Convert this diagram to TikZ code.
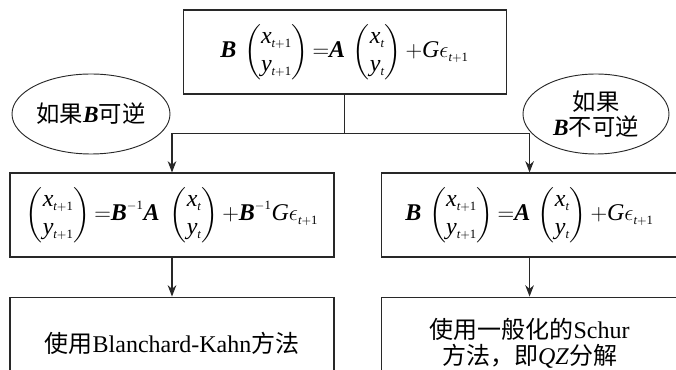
\documentclass[tikz,border=0pt]{standalone}
\usepackage{amsmath}
\usepackage{mathspec}
\setmainfont{Liberation Serif}
\setmathsfont(Digits,Latin){Liberation Serif}
\newfontfamily\cjk{Noto Sans CJK SC}
\usetikzlibrary{shapes.geometric,arrows.meta,positioning,calc}
\definecolor{LineGray}{RGB}{40,40,40}
\DeclareMathSizes{18}{18}{9.5}{7}
\newcommand{\matB}{\textbf{\textit{B}}}
\newcommand{\matA}{\textbf{\textit{A}}}

\begin{document}
\begin{tikzpicture}[
    node distance=29.25pt and 34.5pt,
    box/.style={draw=LineGray, line width=0.8pt, rectangle, minimum height=63pt, align=center, font=\fontsize{18}{21}\selectfont, inner sep=2pt},
    lowbox/.style={box, minimum height=70pt, font=\fontsize{18}{19.5}\selectfont},
    cond/.style={draw=LineGray, line width=0.7pt, ellipse, align=center, font=\fontsize{17.5}{19}\selectfont, inner sep=0pt},
    arr/.style={draw=LineGray, line width=0.8pt, -{Stealth[length=8.5pt,width=6.5pt]}},
  ]
    \useasboundingbox (0,0) rectangle (507pt,-277.5pt);
    \clip (0,0) rectangle (507pt,-277.5pt);

    \node[box, minimum width=242.25pt] (model) at (258.4pt,-39pt)
      {$\matB\,\begin{pmatrix}x_{t+1}\\ y_{t+1}\end{pmatrix}{=}\matA\,\begin{pmatrix}x_t\\ y_t\end{pmatrix}{+}G\epsilon_{t+1}$};
    \node[box, minimum width=243pt] (inv) at (129pt,-161.25pt)
      {$\begin{pmatrix}x_{t+1}\\ y_{t+1}\end{pmatrix}{=}\matB^{-1}\matA\;\begin{pmatrix}x_t\\ y_t\end{pmatrix}{+}\matB^{-1}G\epsilon_{t+1}$};
    \node[box, minimum width=222.75pt, right=of inv] (noninv)
      {$\matB\,\begin{pmatrix}x_{t+1}\\ y_{t+1}\end{pmatrix}{=}\matA\,\begin{pmatrix}x_t\\ y_t\end{pmatrix}{+}G\epsilon_{t+1}$};

    \node[lowbox, minimum width=243pt, below=of inv] (bk) {{\cjk 使用}Blanchard-Kahn{\cjk 方法}};
    \node[lowbox, minimum width=222.75pt, below=of noninv] (qz) {{\cjk 使用一般化的}Schur\\{\cjk 方法，即}\textit{QZ}{\cjk 分解}};

    % conditions
    \node[cond, minimum width=118.5pt, minimum height=60pt] (ifinv) at (68.25pt,-85.5pt) {{\cjk 如果}\matB{\cjk 可逆}};
    \node[cond, minimum width=109.5pt, minimum height=60pt] (ifnot) at (447pt,-85.5pt) {{\cjk 如果}\\\matB{\cjk 不可逆}};

    \draw[draw=LineGray, line width=0.8pt] (model.south) -- ++(0,-29.25pt) coordinate (split);
    \draw[arr] (split) -| (inv.north);
    \draw[arr] (split) -| (noninv.north);
    \draw[arr] (inv) -- (bk);
    \draw[arr] (noninv) -- (qz);
  \end{tikzpicture}
\end{document}
